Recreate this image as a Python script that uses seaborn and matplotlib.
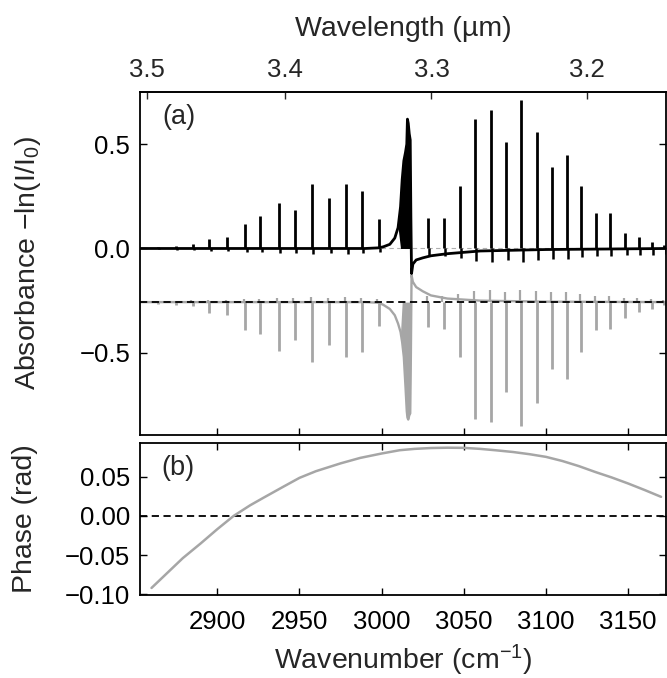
import numpy as np
import pandas as pd
import matplotlib
matplotlib.use('Agg')
import matplotlib.pyplot as plt
import seaborn as sns

# rovibrational line centres (cm-1): P branch, then R branch
line_wn = [2864, 2875, 2885, 2895.1, 2905.9, 2917.0, 2926.2, 2937.3, 2947.0, 2957.6, 2968.1, 2978.5, 2988.0, 2998.1,
           3028.1, 3037.7, 3047.4, 3056.9, 3066.5, 3075.8, 3084.9, 3094.5, 3103.6, 3112.7, 3121.4, 3130.5,
           3139.0, 3148.2, 3156.3, 3164.4, 3172.0]
# measured absorbance (black) peak heights and the small dip after each line
black_peak = [0.008, 0.012, 0.020, 0.045, 0.055, 0.118, 0.155, 0.218, 0.186, 0.309, 0.240, 0.309, 0.275, 0.142,
              0.147, 0.144, 0.300, 0.620, 0.665, 0.508, 0.713, 0.560, 0.392, 0.449, 0.300, 0.171,
              0.168, 0.075, 0.056, 0.030, 0.015]
black_dip = [0.004, 0.005, 0.006, 0.010, 0.010, 0.015, 0.015, 0.020, 0.020, 0.025, 0.020, 0.025, 0.020, 0.015,
             0.035, 0.035, 0.045, 0.060, 0.065, 0.055, 0.065, 0.055, 0.050, 0.050, 0.040, 0.035,
             0.035, 0.030, 0.030, 0.030, 0.025]
# fitted model (grey, inverted and offset) line minima and the small bump before each line
gray_peak = [-0.265, -0.270, -0.277, -0.310, -0.320, -0.390, -0.410, -0.490, -0.440, -0.545, -0.465, -0.520, -0.495, -0.373,
             -0.377, -0.385, -0.520, -0.817, -0.833, -0.690, -0.850, -0.740, -0.580, -0.625, -0.497, -0.393,
             -0.385, -0.334, -0.305, -0.290, -0.270]
gray_bump = [0.005, 0.005, 0.008, 0.010, 0.010, 0.015, 0.015, 0.020, 0.020, 0.025, 0.020, 0.025, 0.020, 0.015,
             0.030, 0.030, 0.040, 0.055, 0.060, 0.050, 0.060, 0.055, 0.050, 0.050, 0.040, 0.030,
             0.030, 0.020, 0.020, 0.015, 0.010]
offset = -0.257

# Q-branch envelope + baseline
q_wn = [2852, 2990, 2998, 3001, 3005, 3008, 3010, 3011.5, 3012.5, 3013.5, 3014.5, 3015.3, 3015.7, 3016.2,
        3016.8, 3017.4, 3017.8, 3018.2, 3019, 3021, 3025, 3030, 3040, 3060, 3100, 3175]
q_black = [0, 0, 0.003, 0.008, 0.020, 0.050, 0.100, 0.200, 0.330, 0.420, 0.460, 0.500, 0.620, 0.600,
           0.550, 0.520, 0.150, -0.120, -0.075, -0.055, -0.045, -0.035, -0.025, -0.012, -0.005, 0]
q_gray = [-0.257, -0.257, -0.260, -0.270, -0.290, -0.320, -0.360, -0.400, -0.450, -0.520, -0.660, -0.780, -0.810, -0.820,
          -0.800, -0.790, -0.500, -0.128, -0.160, -0.185, -0.205, -0.225, -0.240, -0.250, -0.255, -0.257]

# phase correction
phase_wn = [2860, 2867, 2870, 2879, 2890, 2900, 2910, 2920, 2928, 2940, 2950, 2960, 2975, 2987, 3000, 3011,
            3020, 3030, 3040, 3050, 3060, 3069, 3080, 3090, 3100, 3110, 3120, 3130, 3140, 3150, 3160, 3170]
phase = [-0.092, -0.078, -0.072, -0.054, -0.035, -0.017, 0.0, 0.0135, 0.023, 0.037, 0.0485, 0.057, 0.067, 0.074,
         0.0796, 0.0838, 0.0855, 0.0866, 0.087, 0.0868, 0.0855, 0.0838, 0.0815, 0.0787, 0.0753, 0.070, 0.0635,
         0.056, 0.049, 0.0413, 0.033, 0.0243]

sns.set_theme(style='ticks')
plt.rcParams['font.family'] = ['Liberation Sans', 'DejaVu Sans']
plt.rcParams['mathtext.fontset'] = 'custom'
plt.rcParams['mathtext.rm'] = 'Liberation Sans'
plt.rcParams['mathtext.it'] = 'Liberation Sans:italic'
plt.rcParams['axes.unicode_minus'] = True

GRAY = '#a6a6a6'
TICK_FS = 18.5
LAB_FS = 20.5

fig = plt.figure(figsize=(6.67, 6.78), dpi=100)
ax_a = fig.add_axes([0.2099, 0.3584, 0.7886, 0.5059])
ax_b = fig.add_axes([0.2099, 0.1224, 0.7886, 0.2242], sharex=ax_a)

lines = pd.DataFrame({'wn': line_wn, 'black': black_peak, 'dip': black_dip,
                      'gray': gray_peak, 'bump': gray_bump})
q = pd.DataFrame({'wn': q_wn, 'black': q_black, 'gray': q_gray})

# (a) absorbance
ax_a.axhline(0, color='#b0b0b0', lw=0.8, ls=(0, (4, 3)), zorder=1)
ax_a.fill_between(q['wn'], q['gray'], offset, where=q['gray'] < -0.4, interpolate=True,
                  color=GRAY, lw=0, zorder=2)
sns.lineplot(data=q, x='wn', y='gray', color=GRAY, lw=1.7, ax=ax_a, zorder=2)
ax_a.vlines(lines['wn'], offset, lines['gray'], color=GRAY, lw=2.0, zorder=2)
ax_a.vlines(lines['wn'] - 0.7, offset, offset + lines['bump'], color=GRAY, lw=1.6, zorder=2)
ax_a.axhline(offset, color='black', lw=1.3, ls=(0, (4, 2.5)), zorder=3)

ax_a.fill_between(q['wn'], q['black'], 0, where=q['black'] > 0.15, interpolate=True,
                  color='black', lw=0, zorder=4)
sns.lineplot(data=q, x='wn', y='black', color='black', lw=2.0, ax=ax_a, zorder=4)
ax_a.vlines(lines['wn'], 0, lines['black'], color='black', lw=2.0, zorder=4)
ax_a.vlines(lines['wn'] + 0.8, 0, -lines['dip'], color='black', lw=1.8, zorder=4)

ax_a.set_xlim(2853, 3173)
ax_a.set_ylim(-0.894, 0.75)
ax_a.set_yticks([0.5, 0.0, -0.5])
ax_a.set_yticklabels(['0.5', '0.0', '\u22120.5'])
ax_a.set_xticks([2900, 2950, 3000, 3050, 3100, 3150])
ax_a.tick_params(axis='x', labelbottom=False)
ax_a.set_xlabel('')
ax_a.set_ylabel('Absorbance \u2212ln(I/I$_\\mathrm{0}$)', fontsize=LAB_FS)
ax_a.yaxis.set_label_coords(-0.184, 0.5)
ax_a.text(0.042, 0.928, '(a)', transform=ax_a.transAxes, fontsize=19.5, va='center', ha='left')

inv = lambda x: 1e4 / np.where(np.asarray(x, float) == 0, 1e-9, np.asarray(x, float))
sec = ax_a.secondary_xaxis('top', functions=(inv, inv))
sec.set_xticks([3.5, 3.4, 3.3, 3.2])
sec.set_xticklabels(['3.5', '3.4', '3.3', '3.2'])
sec.tick_params(direction='in', length=5, width=1, labelsize=TICK_FS, pad=7)
sec.set_xlabel('Wavelength (\u00b5m)', fontsize=LAB_FS, labelpad=16)

# (b) phase
ph = pd.DataFrame({'wn': phase_wn, 'phase': phase})
ax_b.axhline(0, color='black', lw=1.3, ls=(0, (4, 2.5)), zorder=1)
sns.lineplot(data=ph, x='wn', y='phase', color=GRAY, lw=1.8, ax=ax_b, zorder=2)
ax_b.set_ylim(-0.101, 0.093)
ax_b.set_yticks([0.05, 0.0, -0.05, -0.10])
ax_b.set_yticklabels(['0.05', '0.00', '\u22120.05', '\u22120.10'])
ax_b.set_xlabel('Wavenumber (cm$^{\\mathrm{-1}}$)', fontsize=LAB_FS, labelpad=6)
ax_b.set_ylabel('Phase (rad)', fontsize=LAB_FS)
ax_b.yaxis.set_label_coords(-0.194, 0.5)
ax_b.text(0.04, 0.833, '(b)', transform=ax_b.transAxes, fontsize=19.5, va='center', ha='left')

for ax in (ax_a, ax_b):
    for s in ax.spines.values():
        s.set_visible(True)
        s.set_linewidth(1.3)
        s.set_color('black')
    ax.tick_params(direction='in', length=5, width=1, labelsize=TICK_FS, pad=7,
                   top=(ax is ax_b), right=True, bottom=True, left=True, colors='black')
    ax.set_facecolor('white')
ax_b.tick_params(axis='x', pad=11)

fig.savefig('out.png', dpi=100, facecolor='white')
